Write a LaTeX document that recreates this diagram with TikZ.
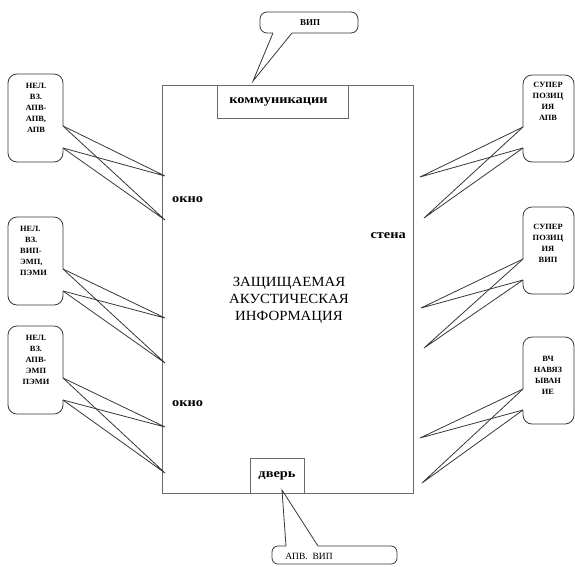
\documentclass[tikz,border=0pt]{standalone}
\usepackage{fontspec}
\setmainfont{Liberation Serif}
\usepackage{tikz}
\usetikzlibrary{calc}
\usetikzlibrary{positioning}
\definecolor{LineGray}{RGB}{55,55,55}
\definecolor{WallGray}{RGB}{105,105,105}
\tikzset{
	bubble/.style={draw=LineGray, line width=0.8pt, rounded corners=9pt},
	ray/.style={draw=LineGray, line width=0.8pt},
	wall/.style={draw=WallGray, line width=1pt},
	tag/.style={font=\bfseries\fontsize{8}{11}\selectfont\addfontfeatures{FakeStretch=1.05}, align=center, inner sep=0pt, anchor=north},
	lbl/.style={font=\bfseries\fontsize{12.5}{14}\selectfont\addfontfeatures{FakeStretch=1.15}, inner sep=0pt},
}
\newcommand{\bubbleLeft}[2]{%
		\coordinate (#2) at #1;
		\draw [bubble] ($(#2)+(55,52)$) -- ++(0,-52)
									   -- ++(-55,0)
									   -- ++(0,88)
									   -- ++(55,0)
									   -- ++(0,-14);
		\coordinate (#2-a) at ($(#2)+(55,52)$);
		\coordinate (#2-b) at ($(#2)+(55,74)$);
}
\newcommand{\bubbleRight}[2]{%
		\coordinate (#2) at #1;
		\draw [bubble] ($(#2)+(0,52)$) -- ++(0,-52)
									  -- ++(51,0)
									  -- ++(0,87)
									  -- ++(-51,0)
									  -- ++(0,-14);
		\coordinate (#2-a) at ($(#2)+(0,52)$);
		\coordinate (#2-b) at ($(#2)+(0,73)$);
}
\newcommand{\rays}[3]{\draw [ray] (#1) -- (#3) -- (#2);}

\begin{document}
\begin{tikzpicture}[x=1pt, y=-1pt]
	\useasboundingbox (0,0) rectangle (575,566);

		% room
		\node [wall, minimum width=251pt, minimum height=408pt, inner sep=0pt] (room) at (287.5,289) {};
		\node [wall, minimum width=131pt, minimum height=33pt, inner sep=0pt] (comm) at (282.5,101.5) {};
		\node [lbl, xshift=-4pt] (commtxt) at (comm) {коммуникации};
		\node [wall, minimum width=54pt, minimum height=35pt, inner sep=0pt] (door) at (277,475.5) {};
		\node [lbl] (doortxt) at (door) {дверь};
		\node [lbl, anchor=west] (win1) at (172,200) {окно};
		\node [lbl, anchor=west] (win2) at (172,404) {окно};
		\node [lbl, anchor=east] (wallr) at (406,236) {стена};
		\node [font=\fontsize{14}{17}\selectfont\addfontfeatures{FakeStretch=1.06}, align=center, inner sep=0pt] (info) at (289,300)
			{ЗАЩИЩАЕМАЯ\\АКУСТИЧЕСКАЯ\\ИНФОРМАЦИЯ};

		\coordinate (l1) at (165,176);
		\coordinate (l2) at (165,220);
		\coordinate (l3) at (165,318);
		\coordinate (l4) at (165,363);
		\coordinate (l5) at (165,427);
		\coordinate (l6) at (165,473);
		\coordinate (r1) at (420,177);
		\coordinate (r2) at (424,218);
		\coordinate (r3) at (421,308);
		\coordinate (r4) at (424,348);
		\coordinate (r5) at (420,438);
		\coordinate (r6) at (422,483);

		\bubbleLeft{(8,74)}{apv} %nel vz apv
		\bubbleLeft{(8,217)}{vip} %nel vz vip
		\bubbleLeft{(8,326)}{emp} %nel vz apv emp
		\bubbleRight{(523,75)}{supa} %super apv
		\bubbleRight{(523,207)}{supv} %super vip
		\bubbleRight{(523,337)}{hf} %vch

		\rays{apv-a}{apv-b}{l1} \rays{apv-a}{apv-b}{l2}
		\rays{vip-a}{vip-b}{l3} \rays{vip-a}{vip-b}{l4}
		\rays{emp-a}{emp-b}{l5} \rays{emp-a}{emp-b}{l6}
		\rays{supa-a}{supa-b}{r1} \rays{supa-a}{supa-b}{r2}
		\rays{supv-a}{supv-b}{r3} \rays{supv-a}{supv-b}{r4}
		\rays{hf-a}{hf-b}{r5} \rays{hf-a}{hf-b}{r6}

		\node [tag] (apvtxt) at (36,83) {НЕЛ.\\ВЗ.\\АПВ-\\АПВ,\\АПВ};
		\node [tag, align=left, anchor=north west] (viptxt) at (20,226) {НЕЛ.\\\hspace{5pt}ВЗ.\\ВИП-\\ЭМП,\\ПЭМИ};
		\node [tag] (emptxt) at (36,335) {НЕЛ.\\ВЗ.\\АПВ-\\ЭМП\\ПЭМИ};
		\node [tag] (supatxt) at (548,82) {СУПЕР\\ПОЗИЦ\\ИЯ\\АПВ};
		\node [tag] (supvtxt) at (548,224) {СУПЕР\\ПОЗИЦ\\ИЯ\\ВИП};
		\node [tag] (hftxt) at (548,356) {ВЧ\\НАВЯЗ\\ЫВАН\\ИЕ};

		% top and bottom callouts
		\coordinate (topt) at (253,81);
		\coordinate (topa) at (273,33);
		\coordinate (topb) at (292,33);
		\draw [bubble, rounded corners=7pt] (topb) -- (358,33) -- (358,12) -- (260,12) -- (260,33) -- (topa);
		\rays{topa}{topb}{topt}
		\node [font=\bfseries\fontsize{9}{10}\selectfont, inner sep=0pt] (viptop) at (310,23) {ВИП};

		\coordinate (bott) at (282,490);
		\coordinate (bota) at (286,546);
		\coordinate (botb) at (318,546);
		\draw [bubble, rounded corners=6pt] (botb) -- (397,546) -- (397,564) -- (272,564) -- (272,546) -- (bota);
		\rays{bota}{botb}{bott}
		\node [font=\fontsize{9.5}{10}\selectfont, inner sep=0pt] (apvbot) at (309,556) {АПВ.~~ВИП};
	\end{tikzpicture}
\end{document}
